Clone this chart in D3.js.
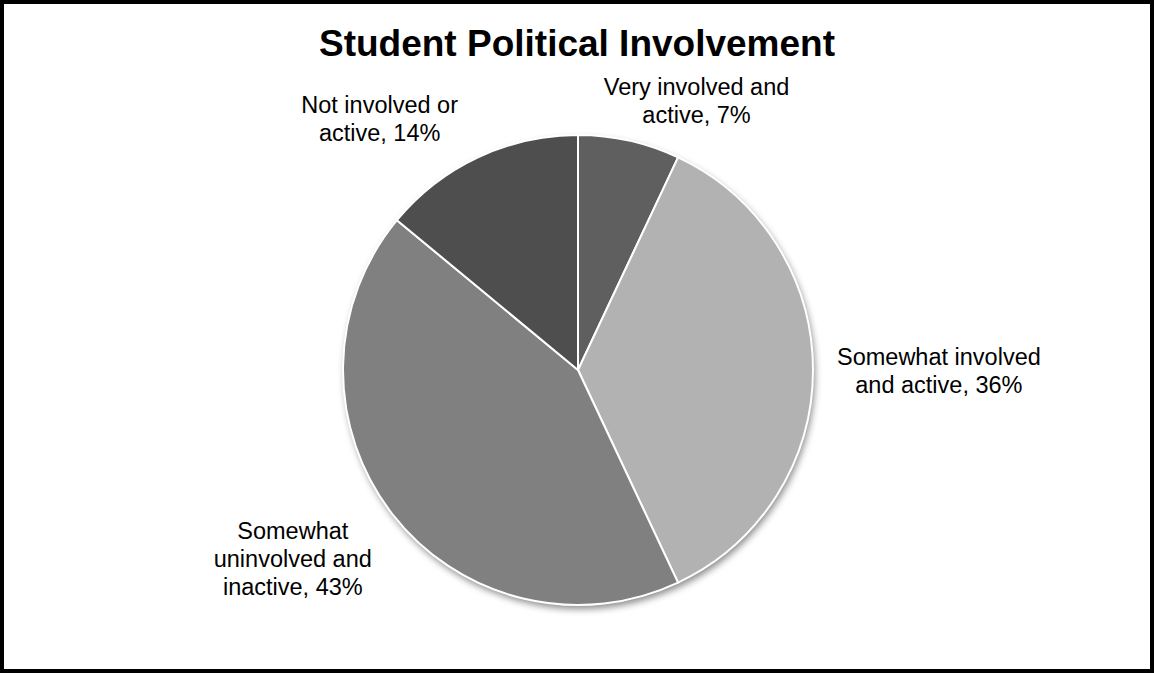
<!DOCTYPE html>
<html>
<head>
<meta charset="utf-8">
<script src="https://cdn.jsdelivr.net/npm/d3@7"></script>
<style>
  html, body { margin: 0; padding: 0; background: #fff; }
  svg { display: block; }
  text { font-family: "Liberation Sans", Arial, sans-serif; fill: #000; }
</style>
</head>
<body>
<svg id="chart" width="1154" height="673"></svg>
<script>
// ---- data ----
const categories = [
  "Very involved and active",
  "Somewhat involved and active",
  "Somewhat uninvolved and inactive",
  "Not involved or active"
];
const values = [7, 36, 43, 14];
const labelLines = [
  ["Very involved and", "active, 7%"],
  ["Somewhat involved", "and active, 36%"],
  ["Somewhat", "uninvolved and", "inactive, 43%"],
  ["Not involved or", "active, 14%"]
];
const sliceColors = ["#5f5f5f", "#b2b2b2", "#808080", "#4e4e4e"];
const title = "Student Political Involvement";

// ---- layout ----
const W = 1154, H = 673;
const cx = 578, cy = 370, r = 235;
const lineH = 28, fontSize = 23.5, labelGap = 14;
// small position adjustments mimicking the original's label placement
const labelNudge = [[44, 1], [10, 1], [-26, 10], [-59, -1]];

const svg = d3.select("#chart");

const defs = svg.append("defs");
const f = defs.append("filter").attr("id", "shadow")
  .attr("x", "-10%").attr("y", "-10%").attr("width", "125%").attr("height", "125%");
f.append("feDropShadow").attr("dx", 2).attr("dy", 4).attr("stdDeviation", 3.5)
  .attr("flood-color", "#000").attr("flood-opacity", 0.45);

svg.append("rect").attr("width", W).attr("height", H).attr("fill", "#fff");

// title
svg.append("text")
  .attr("x", 577).attr("y", 56)
  .attr("text-anchor", "middle")
  .style("font-size", "37px").style("font-weight", "bold")
  .text(title);

const pie = d3.pie().sort(null).value(d => d);
const arcs = pie(values);
const arc = d3.arc().innerRadius(0).outerRadius(r);

const g = svg.append("g").attr("transform", `translate(${cx},${cy})`);

g.append("circle").attr("r", r).attr("fill", "#fff").attr("filter", "url(#shadow)");

g.selectAll("path.slice")
  .data(arcs)
  .join("path")
  .attr("class", "slice")
  .attr("d", arc)
  .attr("fill", (d, i) => sliceColors[i])
  .attr("stroke", "#fff")
  .attr("stroke-width", 2)
  .attr("stroke-linejoin", "round");

// labels
const measure = svg.append("text").style("font-size", fontSize + "px").attr("visibility", "hidden");
function textW(s) { measure.text(s); return measure.node().getComputedTextLength(); }

arcs.forEach((d, i) => {
  const a = (d.startAngle + d.endAngle) / 2;
  const ux = Math.sin(a), uy = -Math.cos(a);
  const lines = labelLines[i];
  const w = d3.max(lines, textW);
  const h = lines.length * lineH;
  const bx = (r + labelGap) * ux + ux * w / 2 + labelNudge[i][0];
  const by = (r + labelGap) * uy + uy * h / 2 + labelNudge[i][1];
  const t = g.append("text")
    .attr("text-anchor", "middle")
    .style("font-size", fontSize + "px");
  lines.forEach((ln, j) => {
    t.append("tspan")
      .attr("x", bx)
      .attr("y", by + (j - (lines.length - 1) / 2) * lineH)
      .attr("dy", "0.36em")
      .text(ln);
  });
});
measure.remove();

// outer frame
svg.append("rect")
  .attr("x", 2).attr("y", 2).attr("width", W - 4).attr("height", H - 4)
  .attr("fill", "none").attr("stroke", "#000").attr("stroke-width", 4);
</script>
</body>
</html>
